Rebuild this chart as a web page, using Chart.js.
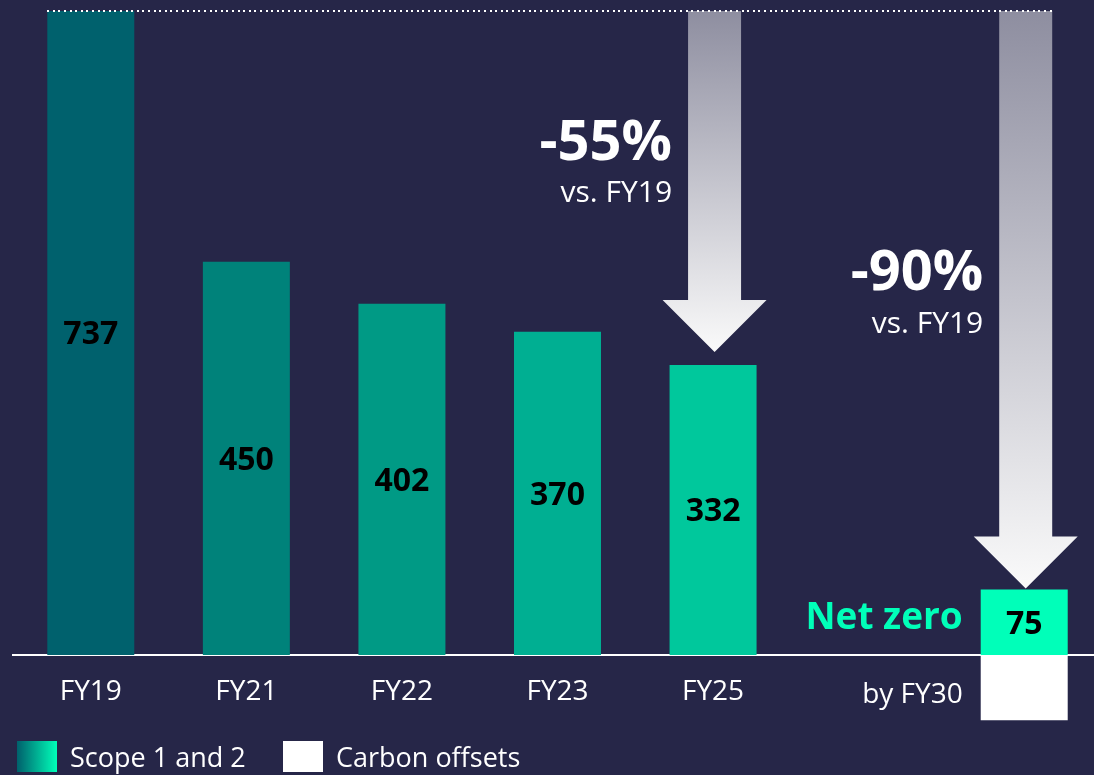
<!DOCTYPE html>
<html>
<head>
<meta charset="utf-8">
<script src="https://cdn.jsdelivr.net/npm/chart.js@4.4.1/dist/chart.umd.min.js"></script>
<style>
  html, body { margin: 0; padding: 0; background: #262648; overflow: hidden; }
  #wrap { position: relative; width: 1102px; height: 775px; }
  .key { position: absolute; top: 741px; height: 31px; display: flex; font-family: 'Open Sans', sans-serif;
         font-size: 27px; line-height: 31px; color: #fff; white-space: nowrap; }
  .key i { display: block; width: 40px; height: 31px; margin-right: 13px; }
</style>
</head>
<body>
<div id="wrap">
  <canvas id="chart" width="1102" height="775"></canvas>
  <div class="key" style="left:17px"><i style="background:linear-gradient(90deg,#00606c,#00ffb9)"></i><span id="key0"></span></div>
  <div class="key" style="left:283px"><i style="background:#fff"></i><span id="key1"></span></div>
</div>
<script>
// emissions, kt CO2e
const categories = ['FY19', 'FY21', 'FY22', 'FY23', 'FY25', '', 'by FY30'];
const scope12 = [737, 450, 402, 370, 332, null, 75];
const offsets = [null, null, null, null, null, null, -75];
const seriesNames = ['Scope 1 and 2', 'Carbon offsets'];
const reductions = ['-55%', '-90%'];   // FY25 and FY30 vs. baseline
const reductionIdx = [4, 6];
const baselineNote = 'vs. FY19';
const targetNote = 'Net zero';

const barColors = ['#00616d', '#00827a', '#009a85', '#00af92', '#00c89c', '#00ffb9', '#00ffb9'];
const FONT = "'Open Sans', sans-serif";

document.getElementById('key0').textContent = seriesNames[0];
document.getElementById('key1').textContent = seriesNames[1];

function drawArrow(ctx, cx, top, tip) {
  const shaftW = 53, headW = 104, headH = 52;
  const g = ctx.createLinearGradient(0, top, 0, tip);
  g.addColorStop(0, '#8e8ea0');
  g.addColorStop(1, '#fafafa');
  ctx.fillStyle = g;
  ctx.beginPath();
  ctx.moveTo(cx - shaftW / 2, top);
  ctx.lineTo(cx + shaftW / 2, top);
  ctx.lineTo(cx + shaftW / 2, tip - headH);
  ctx.lineTo(cx + headW / 2, tip - headH);
  ctx.lineTo(cx, tip);
  ctx.lineTo(cx - headW / 2, tip - headH);
  ctx.lineTo(cx - shaftW / 2, tip - headH);
  ctx.closePath();
  ctx.fill();
  return { left: cx - shaftW / 2, right: cx + shaftW / 2 };
}

const overlay = {
  id: 'overlay',
  afterDatasetsDraw(chart) {
    const { ctx, scales: { y } } = chart;
    const bars = chart.getDatasetMeta(0).data;
    const topY = Math.round(y.getPixelForValue(scope12[0]));
    ctx.save();

    // reduction arrows with their captions
    const gaps = [13, 1];
    const capY = [[160, 202], [290, 333]];
    let lastRight = 0;
    reductionIdx.forEach((idx, k) => {
      const bar = bars[idx];
      const a = drawArrow(ctx, bar.x + 1.5, topY, bar.y - gaps[k]);
      lastRight = a.right;
      ctx.fillStyle = '#fff';
      ctx.textAlign = 'right';
      ctx.textBaseline = 'alphabetic';
      ctx.font = `bold 56px ${FONT}`;
      ctx.fillText(reductions[k], a.left - 16, capY[k][0]);
      ctx.font = `30px ${FONT}`;
      ctx.fillText(baselineNote, a.left - 16, capY[k][1]);
    });

    // dotted reference line at the FY19 level
    ctx.fillStyle = '#fff';
    const x0 = bars[0].x - bars[0].width / 2;
    for (let px = x0; px < lastRight; px += 5.6) {
      ctx.fillRect(Math.round(px), topY - 1, 2, 2);
    }

    // value labels inside the bars
    ctx.fillStyle = '#000';
    ctx.textAlign = 'center';
    ctx.font = `bold 32px ${FONT}`;
    bars.forEach((bar, i) => {
      if (scope12[i] == null) return;
      ctx.fillText(String(scope12[i]), bar.x, (bar.y + bar.base) / 2 + 11.5);
    });

    // target labels beside the FY30 bar
    const last = bars[bars.length - 1];
    const lx = last.x - last.width / 2 - 18;
    ctx.textAlign = 'right';
    ctx.fillStyle = '#00ffb9';
    ctx.font = `bold 37px ${FONT}`;
    ctx.fillText(targetNote, lx, 629);
    ctx.fillStyle = '#fff';
    ctx.font = `28px ${FONT}`;
    ctx.fillText(categories[categories.length - 1], lx, y.getPixelForValue(0) + 48);
    ctx.restore();
  }
};

new Chart(document.getElementById('chart'), {
  type: 'bar',
  data: {
    labels: categories,
    datasets: [
      { label: seriesNames[0], data: scope12, backgroundColor: barColors },
      { label: seriesNames[1], data: offsets, backgroundColor: '#ffffff' }
    ]
  },
  options: {
    responsive: false,
    animation: false,
    layout: { padding: { left: 13, right: 0, top: 11, bottom: 54.5 } },
    datasets: { bar: { categoryPercentage: 1, barPercentage: 0.5592, borderWidth: 0 } },
    plugins: { legend: { display: false }, tooltip: { enabled: false } },
    scales: {
      x: {
        stacked: true,
        position: { y: 0 },
        grid: { display: false, drawTicks: false },
        border: { display: true, color: '#ffffff', width: 2 },
        ticks: {
          color: '#ffffff',
          font: { family: FONT, size: 28 },
          padding: 20,
          autoSkip: false,
          maxRotation: 0,
          callback: (v, i) => (i === categories.length - 1 ? '' : categories[i])
        }
      },
      y: {
        stacked: true,
        display: false,
        min: -75,
        max: 737
      }
    }
  },
  plugins: [overlay]
});
</script>
</body>
</html>
